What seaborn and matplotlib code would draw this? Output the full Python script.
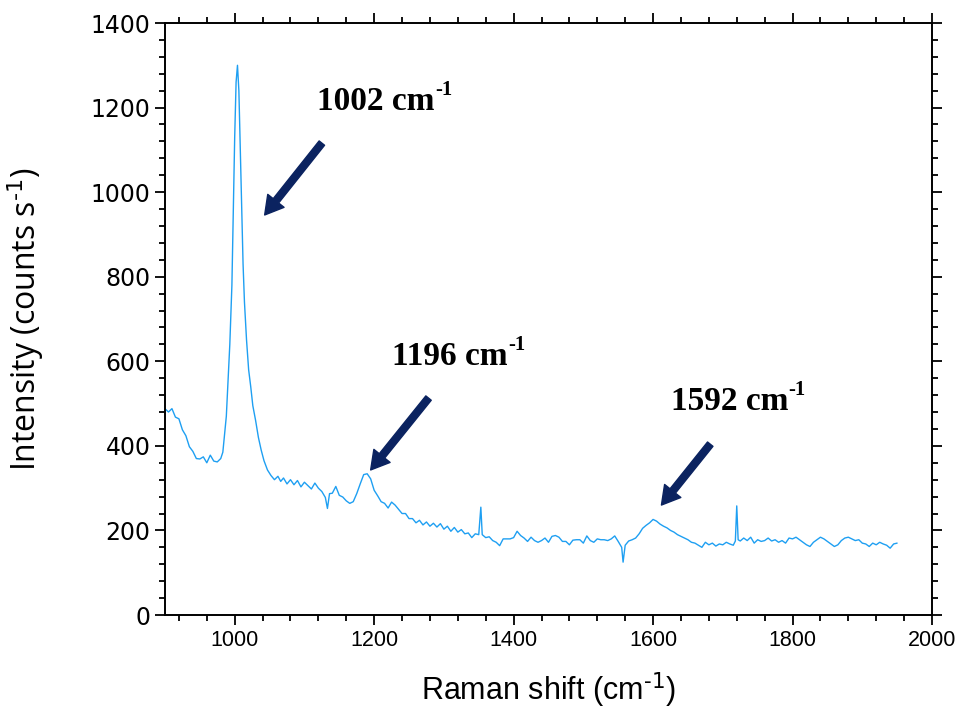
# Raman spectrum with labelled peaks
import numpy as np
import pandas as pd
import matplotlib
matplotlib.use("Agg")
import matplotlib.pyplot as plt
from matplotlib.ticker import MultipleLocator
import seaborn as sns

# Spectrum (Raman shift in cm-1, intensity in counts/s)
shift = [900, 905, 910, 915, 920, 925, 930, 935, 940, 945, 950, 955, 960, 965, 970, 975,
         980, 983, 985, 988, 990, 993, 996, 998, 1000, 1002, 1004, 1006, 1008, 1010, 1012,
         1014, 1017, 1020, 1023, 1026, 1030, 1034, 1038, 1042, 1047, 1052, 1057, 1062, 1066,
         1070, 1075, 1080, 1085, 1090, 1095, 1100, 1105, 1110, 1115, 1120, 1125, 1130, 1133,
         1136, 1140, 1145, 1150, 1155, 1160, 1165, 1170, 1175, 1180, 1185, 1190, 1195, 1200,
         1205, 1210, 1215, 1220, 1225, 1230, 1235, 1240, 1245, 1250, 1255, 1260, 1265, 1270,
         1275, 1280, 1285, 1290, 1295, 1300, 1305, 1310, 1315, 1320, 1325, 1330, 1335, 1340,
         1345, 1350, 1353, 1355, 1360, 1365, 1370, 1375, 1380, 1385, 1390, 1395, 1400, 1405,
         1410, 1415, 1420, 1425, 1430, 1435, 1440, 1445, 1450, 1455, 1460, 1465, 1470, 1475,
         1480, 1485, 1490, 1495, 1500, 1505, 1510, 1515, 1520, 1525, 1530, 1535, 1540, 1545,
         1550, 1555, 1557, 1560, 1565, 1570, 1575, 1580, 1585, 1590, 1595, 1600, 1605, 1610,
         1615, 1620, 1625, 1630, 1635, 1640, 1645, 1650, 1655, 1660, 1665, 1670, 1675, 1680,
         1685, 1690, 1695, 1700, 1705, 1710, 1715, 1718, 1720, 1722, 1725, 1730, 1735, 1740,
         1745, 1750, 1755, 1760, 1765, 1770, 1775, 1780, 1785, 1790, 1795, 1800, 1805, 1810,
         1815, 1820, 1825, 1830, 1835, 1840, 1845, 1850, 1855, 1860, 1865, 1870, 1875, 1880,
         1885, 1890, 1895, 1900, 1905, 1910, 1915, 1920, 1925, 1930, 1935, 1940, 1945, 1950]
intensity = [488, 480, 488, 468, 464, 438, 424, 398, 387, 370, 369, 374, 360, 378, 364, 362,
             370, 385, 420, 470, 540, 640, 780, 950, 1130, 1260, 1300, 1240, 1100, 950, 830,
             740, 650, 580, 540, 495, 460, 420, 390, 365, 343, 330, 320, 328, 316,
             324, 310, 320, 308, 318, 303, 314, 306, 298, 312, 300, 292, 278, 252,
             287, 288, 304, 283, 279, 270, 264, 268, 287, 310, 332, 334, 322, 295,
             282, 268, 264, 253, 267, 260, 250, 240, 240, 228, 228, 218, 224, 213,
             220, 210, 217, 208, 216, 203, 210, 198, 207, 196, 202, 192, 194, 183,
             192, 190, 255, 190, 183, 185, 176, 172, 164, 180, 180, 180, 183, 198,
             188, 182, 174, 184, 176, 172, 176, 182, 172, 186, 188, 184, 174, 174,
             166, 177, 178, 178, 170, 187, 176, 172, 180, 178, 178, 176, 180, 187,
             174, 160, 125, 165, 175, 178, 182, 192, 205, 212, 218, 226, 222, 215,
             210, 206, 200, 196, 190, 186, 182, 178, 172, 170, 165, 160, 172, 166,
             170, 163, 168, 166, 172, 168, 165, 175, 258, 178, 175, 182, 176, 184,
             170, 178, 174, 176, 182, 175, 178, 172, 176, 170, 182, 180, 184, 178,
             172, 166, 162, 172, 178, 184, 180, 174, 168, 162, 166, 176, 182, 184,
             180, 176, 178, 170, 168, 162, 170, 166, 172, 168, 165, 158, 168, 170]

# Peak labels: text centre/baseline, arrow tips and arrow tails (data coordinates)
peak_labels = ["1002", "1196", "1592"]
label_pos = [(1211, 1194), (1317, 591), (1718, 485)]
arrow_tip = [(1043, 946), (1195, 343), (1612, 260)]
arrow_tail = [(1125, 1116), (1278, 513), (1682, 404)]

df = pd.DataFrame({"shift": shift, "intensity": intensity})

sns.set_style("ticks")
plt.rcParams.update({
    "axes.linewidth": 1.4,
    "text.color": "black",
    "axes.labelcolor": "black",
    "xtick.color": "black",
    "ytick.color": "black",
})

fig = plt.figure(figsize=(9.63, 7.10), dpi=100)
ax = fig.add_axes([0.1713, 0.1338, 0.7965, 0.8338])

sns.lineplot(data=df, x="shift", y="intensity", ax=ax, color="#1e9ff2", linewidth=1.0)

ax.set_xlim(900, 2000)
ax.set_ylim(0, 1400)
ax.xaxis.set_major_locator(MultipleLocator(200))
ax.xaxis.set_minor_locator(MultipleLocator(40))
ax.yaxis.set_major_locator(MultipleLocator(200))
ax.yaxis.set_minor_locator(MultipleLocator(40))
ax.tick_params(which="both", direction="out", top=True, right=True, color="black", width=1.3)
ax.tick_params(which="major", length=7)
ax.tick_params(which="minor", length=4)
for s in ax.spines.values():
    s.set_visible(True)
    s.set_color("black")

for t in ax.get_xticklabels():
    t.set_family("Liberation Sans")
    t.set_fontsize(15.5)
for t in ax.get_yticklabels():
    t.set_family("DejaVu Sans")
    t.set_fontsize(17)

ax.set_xlabel(r"Raman shift (cm$^{\text{-1}}$)", fontsize=22, family="Liberation Sans", labelpad=14)
ax.set_ylabel(r"Intensity (counts s$^{\text{-1}}$)", fontsize=23, family="Open Sans", labelpad=32)

navy = "#0b2360"
for lab, pos, tip, tail in zip(peak_labels, label_pos, arrow_tip, arrow_tail):
    t = ax.text(pos[0] - 8, pos[1], lab + " cm", family="Liberation Serif",
                weight="bold", fontsize=24, ha="center", va="baseline")
    ax.annotate("-1", xy=(1, 0.55), xycoords=t, family="Liberation Serif", weight="bold",
                fontsize=15, ha="left", va="bottom")
    ax.annotate("", xy=tip, xytext=tail,
                arrowprops=dict(arrowstyle="simple,head_width=1.5,head_length=1.3,tail_width=0.5",
                                color=navy, shrinkA=0, shrinkB=0))

fig.savefig("out.png", dpi=100)
